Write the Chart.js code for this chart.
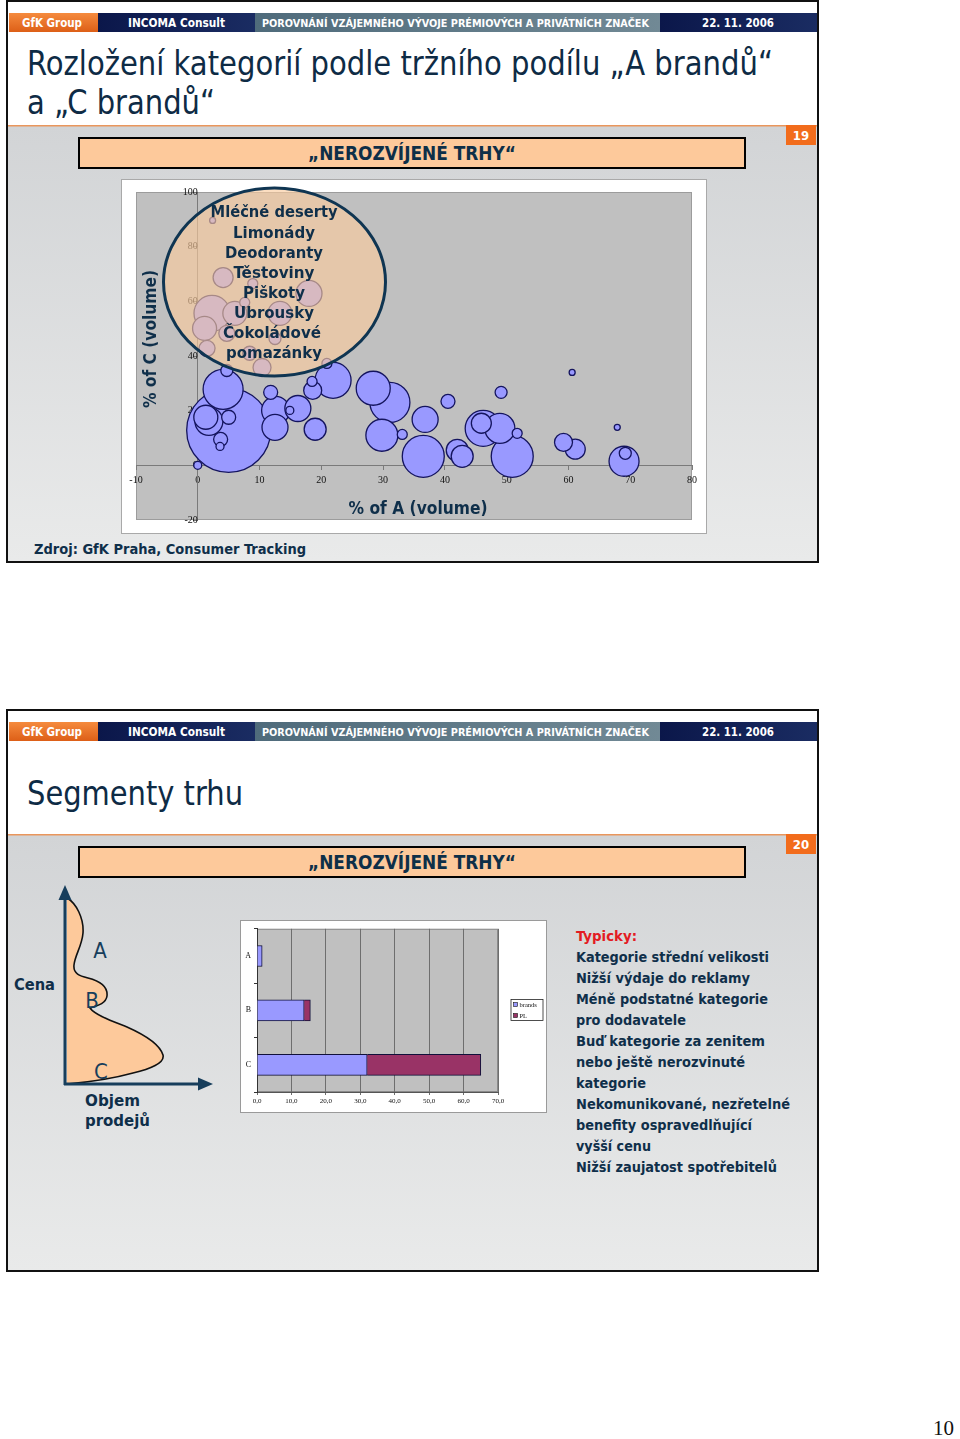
<!DOCTYPE html>
<html lang="cs">
<head>
<meta charset="utf-8">
<title>Rozložení kategorií podle tržního podílu – Segmenty trhu</title>
<script src="https://cdn.jsdelivr.net/npm/chart.js@4.4.1/dist/chart.umd.min.js"></script>
<style>
  html, body { margin: 0; padding: 0; background: #fff; }
  #page { position: relative; width: 960px; height: 1439px; overflow: hidden; }
  svg.layer { position: absolute; left: 0; top: 0; }
  #bg { z-index: 0; }
  #fg { z-index: 3; pointer-events: none; }
  .box { position: absolute; background: #fff; z-index: 1; }
  #bubbleBox { left: 122px; top: 180px; width: 584px; height: 353px; outline: 1px solid #a9a9a9; }
  #barBox { left: 241px; top: 921px; width: 305px; height: 191px; outline: 1px solid #9a9a9a; }
  text { font-family: "DejaVu Sans Condensed", "DejaVu Sans", sans-serif; }
  .hd { font-weight: bold; font-size: 12px; fill: #fff; }
  .hs { font-size: 11px; }
  .pg { font-weight: bold; font-size: 13px; fill: #fff; }
  .banner { font-weight: bold; font-size: 19px; fill: #0e2f48; }
  .title { font-size: 33px; fill: #0e2b45; }
  .nb { font-weight: bold; fill: #0f2f4a; }
  .red { font-weight: bold; fill: #e31b23; }
  .serif { font-family: "Liberation Serif", "DejaVu Serif", serif; }
</style>
</head>
<body>
<div id="page">
  <svg id="bg" class="layer" width="960" height="1439" xmlns="http://www.w3.org/2000/svg"></svg>

  <div id="bubbleBox" class="box"><canvas id="bubbleChart" width="584" height="353"></canvas></div>
  <div id="barBox" class="box"><canvas id="barChart" width="305" height="191"></canvas></div>

  <svg id="fg" class="layer" width="960" height="1439" xmlns="http://www.w3.org/2000/svg">
    <!-- highlighted group of categories -->
    <ellipse cx="274.5" cy="282" rx="111" ry="94" fill="rgba(250,204,158,0.64)" stroke="#0f3552" stroke-width="3"/>
    <g class="nb" font-size="16.5" text-anchor="middle">
      <text x="274" y="217" textLength="127" lengthAdjust="spacingAndGlyphs">Mléčné deserty</text>
      <text x="274" y="238" textLength="82" lengthAdjust="spacingAndGlyphs">Limonády</text>
      <text x="274" y="258" textLength="98" lengthAdjust="spacingAndGlyphs">Deodoranty</text>
      <text x="274" y="278" textLength="81" lengthAdjust="spacingAndGlyphs">Těstoviny</text>
      <text x="274" y="298" textLength="62" lengthAdjust="spacingAndGlyphs">Piškoty</text>
      <text x="274" y="318" textLength="80" lengthAdjust="spacingAndGlyphs">Ubrousky</text>
      <text x="272" y="338" textLength="98" lengthAdjust="spacingAndGlyphs">Čokoládové</text>
      <text x="274" y="358" textLength="96" lengthAdjust="spacingAndGlyphs">pomazánky</text>
    </g>
    <!-- axis titles of the bubble chart -->
    <text class="nb" font-size="17" x="150" y="345" text-anchor="middle" textLength="138" lengthAdjust="spacingAndGlyphs" transform="rotate(-90 150 339)">% of C (volume)</text>
    <text class="nb" font-size="17" x="418" y="514" text-anchor="middle" textLength="139" lengthAdjust="spacingAndGlyphs">% of A (volume)</text>
    <!-- legend of the bar chart -->
    <rect x="511" y="999.5" width="32" height="21" fill="#fff" stroke="#222" stroke-width="0.8"/>
    <rect x="513.5" y="1002.5" width="4" height="4" fill="#9999ff" stroke="#111" stroke-width="0.6"/>
    <rect x="513.5" y="1013.5" width="4" height="4" fill="#993366" stroke="#111" stroke-width="0.6"/>
    <text class="serif" font-size="6.5" x="519.5" y="1006.8" fill="#111">brands</text>
    <text class="serif" font-size="6.5" x="519.5" y="1017.8" fill="#111">PL</text>
  </svg>
</div>

<script>
// ---- data: bubble chart (one bubble per category) ----
const shareA = [5.0, 4.1, 1.3, 1.8, 5.0, 3.7, 3.6, 0.0, 11.8, 12.5, 12.6, 16.2, 14.9, 19.0, 18.6, 18.5, 21.9, 28.4,
  31.1, 29.8, 33.1, 36.8, 36.5, 40.5, 42.0, 42.8, 46.2, 45.9, 48.9, 51.7, 50.9, 49.1, 60.6, 59.2, 61.1, 67.9, 69.0,
  69.2, 2.4, 4.1, 8.9, 18.0, 7.6, 2.3, 6.0, 13.3, 1.1, 4.7, 12.5, 1.5, 10.4, 8.4, 4.7, 20.9];
const shareC = [12.8, 27.8, 17.6, 16.1, 17.6, 9.5, 6.9, 0.0, 26.7, 13.9, 20.1, 20.8, 20.1, 13.2, 27.4, 30.7, 31.1, 28.2,
  23.0, 11.0, 11.3, 16.8, 3.3, 23.4, 5.5, 3.3, 13.5, 15.4, 13.5, 11.7, 3.3, 26.7, 34.0, 8.4, 5.9, 13.9, 1.5,
  4.4, 89.6, 68.7, 66.5, 62.9, 59.6, 55.6, 55.6, 55.6, 50.1, 48.3, 46.4, 42.8, 35.8, 41.0, 34.7, 37.3];
const categorySize = [42, 20, 12, 14, 7, 7, 4, 4, 7, 13, 14, 13, 4, 11, 9, 5, 18, 17,
  20, 16, 5, 13, 21, 7, 11, 11, 18, 10, 15, 5, 21, 6, 3, 9, 10, 3, 15,
  6, 3, 10, 5, 13, 5, 18, 12, 12, 12, 8, 6, 8, 9, 7, 6, 5];

// ---- data: bar chart (market segments) ----
const segments = ['A', 'B', 'C'];
const brandsShare = [1.5, 13.7, 32.0];
const plShare = [0, 1.8, 33.0];

// ---- slide chrome (both slides share the same frame) ----
const SLIDE2 = 709;

function slideChrome(dy, pageNo) {
    return `
<rect x="7" y="${1 + dy}" width="811" height="561" fill="#fff" stroke="#111" stroke-width="2"/>
<rect x="8" y="${126 + dy}" width="809" height="435" fill="url(#gArea)"/>
<rect x="8" y="${125 + dy}" width="809" height="1.5" fill="#e9965c"/>
<rect x="9" y="${13 + dy}" width="89" height="19" fill="url(#gOrange)"/>
<rect x="98" y="${13 + dy}" width="157" height="19" fill="url(#gNavy)"/>
<rect x="255" y="${13 + dy}" width="405" height="19" fill="url(#gTeal)"/>
<rect x="660" y="${13 + dy}" width="157" height="19" fill="url(#gNavy)"/>
<text class="hd" x="22" y="${27 + dy}" textLength="60" lengthAdjust="spacingAndGlyphs">GfK Group</text>
<text class="hd" x="128" y="${27 + dy}" textLength="97" lengthAdjust="spacingAndGlyphs">INCOMA Consult</text>
<text class="hd hs" x="262" y="${26.5 + dy}" textLength="387" lengthAdjust="spacingAndGlyphs">POROVNÁNÍ VZÁJEMNÉHO VÝVOJE PRÉMIOVÝCH A PRIVÁTNÍCH ZNAČEK</text>
<text class="hd" x="702" y="${27 + dy}" textLength="72" lengthAdjust="spacingAndGlyphs">22. 11. 2006</text>
<rect x="786" y="${125 + dy}" width="30" height="20" fill="#f26c1c"/>
<text class="pg" x="801" y="${140 + dy}" text-anchor="middle">${pageNo}</text>
<rect x="79" y="${138 + dy}" width="666" height="30" fill="#fdc99b" stroke="#000" stroke-width="2"/>
<text class="banner" x="412" y="${160 + dy}" text-anchor="middle" textLength="208" lengthAdjust="spacingAndGlyphs">„NEROZVÍJENÉ TRHY“</text>`;
}

const typicalLines = [
    ['Kategorie střední velikosti', 193],
    ['Nižší výdaje do reklamy', 174],
    ['Méně podstatné kategorie', 192],
    ['pro dodavatele', 110],
    ['Buď kategorie za zenitem', 189],
    ['nebo ještě nerozvinuté', 169],
    ['kategorie', 70],
    ['Nekomunikované, nezřetelné', 214],
    ['benefity ospravedlňující', 176],
    ['vyšší cenu', 75],
    ['Nižší zaujatost spotřebitelů', 201]
];

const bg = document.getElementById('bg');
bg.innerHTML = `
<defs>
  <linearGradient id="gArea" x1="0" y1="0" x2="0" y2="1">
    <stop offset="0" stop-color="#d2d4d6"/><stop offset="1" stop-color="#e9eaea"/>
  </linearGradient>
  <linearGradient id="gOrange" x1="0" y1="0" x2="0" y2="1">
    <stop offset="0" stop-color="#f58b3e"/><stop offset="1" stop-color="#dd5f17"/>
  </linearGradient>
  <linearGradient id="gNavy" x1="0" y1="0" x2="1" y2="0">
    <stop offset="0" stop-color="#0b174a"/><stop offset="1" stop-color="#1a2c62"/>
  </linearGradient>
  <linearGradient id="gTeal" x1="0" y1="0" x2="1" y2="0">
    <stop offset="0" stop-color="#4f6b7b"/><stop offset="1" stop-color="#718995"/>
  </linearGradient>
</defs>
${slideChrome(0, 19)}
<text class="title" x="27" y="75" textLength="746" lengthAdjust="spacingAndGlyphs">Rozložení kategorií podle tržního podílu „A brandů“</text>
<text class="title" x="27" y="114" textLength="188" lengthAdjust="spacingAndGlyphs">a „C brandů“</text>
<text class="nb" font-size="14" x="34" y="554" textLength="272" lengthAdjust="spacingAndGlyphs">Zdroj: GfK Praha, Consumer Tracking</text>

${slideChrome(SLIDE2, 20)}
<text class="title" x="27" y="805" textLength="216" lengthAdjust="spacingAndGlyphs">Segmenty trhu</text>

<path d="M67,1084 L67,898 C76,903 84,918 83,933 C82,946 75,955 74,965 C73,974 80,976 88,978 C100,981 108,986 107,996 C106,1004 96,1006 90,1008 C95,1015 112,1021 127,1027 C145,1035 160,1045 163,1055 C165,1063 150,1069 133,1073 C115,1078 90,1082 67,1084 Z" fill="#fdc99b"/>
<path d="M67,898 C76,903 84,918 83,933 C82,946 75,955 74,965 C73,974 80,976 88,978 C100,981 108,986 107,996 C106,1004 96,1006 90,1008 C95,1015 112,1021 127,1027 C145,1035 160,1045 163,1055 C165,1063 150,1069 133,1073 C115,1078 90,1082 67,1084" fill="none" stroke="#111" stroke-width="1.6"/>
<line x1="65" y1="1085" x2="65" y2="898" stroke="#173e5c" stroke-width="3"/>
<polygon points="65,885 58.5,900 71.5,900" fill="#173e5c"/>
<line x1="64" y1="1084" x2="200" y2="1084" stroke="#173e5c" stroke-width="3"/>
<polygon points="213,1084 198,1077.5 198,1090.5" fill="#173e5c"/>
<g font-size="22" fill="#173e5c" text-anchor="middle">
  <text x="100" y="958">A</text>
  <text x="92" y="1008">B</text>
  <text x="101" y="1079">C</text>
</g>
<text class="nb" font-size="16" x="14" y="990" textLength="41" lengthAdjust="spacingAndGlyphs">Cena</text>
<text class="nb" font-size="16" x="85" y="1106" textLength="55" lengthAdjust="spacingAndGlyphs">Objem</text>
<text class="nb" font-size="16" x="85" y="1126" textLength="65" lengthAdjust="spacingAndGlyphs">prodejů</text>

<text class="red" font-size="14.5" x="576" y="941" textLength="61" lengthAdjust="spacingAndGlyphs">Typicky:</text>
${typicalLines.map((l, i) => `<text class="nb" font-size="14.5" x="576" y="${962 + i * 21}" textLength="${l[1]}" lengthAdjust="spacingAndGlyphs">${l[0]}</text>`).join('\n')}

<text class="serif" font-size="21" x="954" y="1435" text-anchor="end" fill="#111">10</text>
`;

// ---- chart helpers ----
const plotBg = {
    id: 'plotBg',
    beforeDraw(chart, args, opts) {
        const { ctx, chartArea: a } = chart;
        ctx.save();
        ctx.fillStyle = opts.color;
        ctx.fillRect(a.left, a.top, a.width, a.height);
        if (opts.border) {
            ctx.strokeStyle = opts.border;
            ctx.lineWidth = 1;
            ctx.strokeRect(a.left + 0.5, a.top + 0.5, a.width - 1, a.height - 1);
        }
        ctx.restore();
    }
};

Chart.defaults.font.family = "'Liberation Serif', 'DejaVu Serif', serif";
Chart.defaults.color = '#111';

// bigger bubbles first so the small ones stay visible on top
const bubblePoints = shareA
    .map((x, i) => ({ x: x, y: shareC[i], r: categorySize[i] }))
    .sort((a, b) => b.r - a.r);

new Chart(document.getElementById('bubbleChart'), {
    type: 'bubble',
    data: {
        datasets: [{
            data: bubblePoints,
            backgroundColor: '#9999ff',
            borderColor: '#14145e',
            borderWidth: 1.3
        }]
    },
    options: {
        responsive: false,
        animation: false,
        layout: { autoPadding: false, padding: { left: 14, top: 12, right: 14, bottom: 13 } },
        plugins: {
            legend: { display: false },
            tooltip: { enabled: false },
            plotBg: { color: '#c0c0c0', border: '#9c9c9c' }
        },
        scales: {
            x: {
                type: 'linear',
                min: -10,
                max: 80,
                position: { y: 0 },
                ticks: { stepSize: 10, font: { size: 10 }, padding: 5 },
                grid: { drawOnChartArea: false, tickLength: 4, color: '#7a7a7a' },
                border: { color: '#7a7a7a' }
            },
            y: {
                type: 'linear',
                min: -20,
                max: 100,
                position: { x: 0 },
                ticks: { stepSize: 20, font: { size: 10 }, padding: 6 },
                grid: { drawOnChartArea: false, tickLength: 4, color: '#7a7a7a' },
                border: { color: '#7a7a7a' }
            }
        }
    },
    plugins: [plotBg]
});

new Chart(document.getElementById('barChart'), {
    type: 'bar',
    data: {
        labels: segments,
        datasets: [
            { label: 'brands', data: brandsShare, backgroundColor: '#9999ff', borderColor: '#10103a', borderWidth: 1, barThickness: 21 },
            { label: 'PL', data: plShare, backgroundColor: '#993366', borderColor: '#10103a', borderWidth: 1, barThickness: 21 }
        ]
    },
    options: {
        indexAxis: 'y',
        responsive: false,
        animation: false,
        layout: { autoPadding: false, padding: { left: 4, top: 6, right: 48, bottom: 0 } },
        plugins: {
            legend: { display: false },
            tooltip: { enabled: false },
            plotBg: { color: '#c0c0c0', border: '#8a8a8a' }
        },
        scales: {
            x: {
                stacked: true,
                min: 0,
                max: 70,
                ticks: {
                    stepSize: 10,
                    font: { size: 7 },
                    padding: 2,
                    callback: function (value) {
                        return value.toFixed(1).replace('.', ',');
                    }
                },
                grid: { color: '#6e6e6e', tickLength: 3 },
                border: { color: '#555' },
                afterFit: function (scale) { scale.height = 20; }
            },
            y: {
                stacked: true,
                ticks: { font: { size: 8 }, padding: 3 },
                grid: { offset: true, drawOnChartArea: false, tickLength: 3, color: '#333' },
                border: { color: '#333' },
                afterFit: function (scale) { scale.width = 12; }
            }
        }
    },
    plugins: [plotBg]
});
</script>
</body>
</html>
